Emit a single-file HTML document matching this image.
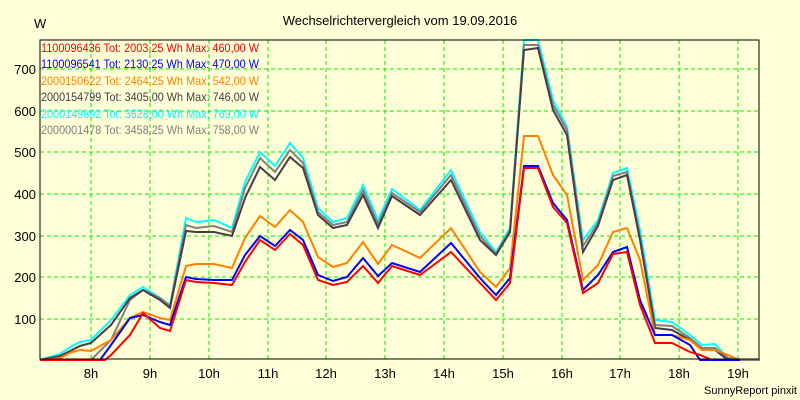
<!DOCTYPE html>
<html><head><meta charset="utf-8"><style>
html,body{margin:0;padding:0;background:#ffffd8;}
svg{display:block;font-family:"Liberation Sans",sans-serif;}
</style></head><body>
<svg width="800" height="400" viewBox="0 0 800 400" xmlns="http://www.w3.org/2000/svg">
<rect width="800" height="400" fill="#ffffd8"/>
<text x="400" y="25" font-size="13" text-anchor="middle" fill="#000">Wechselrichtervergleich vom 19.09.2016</text>
<text x="34" y="28" font-size="13" fill="#000">W</text>
<g stroke="#00ee00" stroke-width="1" stroke-dasharray="4,3" fill="none">
<line x1="40" y1="319" x2="759" y2="319"/><line x1="40" y1="277" x2="759" y2="277"/>
<line x1="40" y1="236" x2="759" y2="236"/><line x1="40" y1="194" x2="759" y2="194"/>
<line x1="40" y1="152" x2="759" y2="152"/><line x1="40" y1="111" x2="759" y2="111"/>
<line x1="40" y1="69" x2="759" y2="69"/>
<line x1="91" y1="40" x2="91" y2="359"/><line x1="150" y1="40" x2="150" y2="359"/>
<line x1="209" y1="40" x2="209" y2="359"/><line x1="268" y1="40" x2="268" y2="359"/>
<line x1="326" y1="40" x2="326" y2="359"/><line x1="385" y1="40" x2="385" y2="359"/>
<line x1="444" y1="40" x2="444" y2="359"/><line x1="503" y1="40" x2="503" y2="359"/>
<line x1="562" y1="40" x2="562" y2="359"/><line x1="620" y1="40" x2="620" y2="359"/>
<line x1="679" y1="40" x2="679" y2="359"/><line x1="738" y1="40" x2="738" y2="359"/>
</g>
<g font-size="13" fill="#000" text-anchor="end">
<text x="36" y="324">100</text><text x="36" y="282">200</text><text x="36" y="241">300</text>
<text x="36" y="199">400</text><text x="36" y="157">500</text><text x="36" y="116">600</text><text x="36" y="74">700</text>
</g>
<g font-size="13" fill="#000" text-anchor="middle">
<text x="91" y="378">8h</text><text x="150" y="378">9h</text><text x="209" y="378">10h</text>
<text x="268" y="378">11h</text><text x="326" y="378">12h</text><text x="385" y="378">13h</text>
<text x="444" y="378">14h</text><text x="503" y="378">15h</text><text x="562" y="378">16h</text>
<text x="620" y="378">17h</text><text x="679" y="378">18h</text><text x="738" y="378">19h</text>
</g>
<text x="797" y="394" font-size="11" text-anchor="end" fill="#000">SunnyReport pinxit</text>
<g fill="none" stroke-width="2" stroke-linejoin="miter">
<polyline stroke="#00ffff" points="40,360 60,354 72,346 80,342 91,340 111,320 130,295 143,287 160,298 170,305 186,218 196,222 214,220 232,228 245,182 260,152 275,166 290,143 303,158 318,208 333,222 347,218 363,185 378,220 392,189 420,210 451,170 480,232 496,252 510,228 524,40 538,40 553,100 567,127 583,240 598,220 613,173 627,168 640,230 655,320 672,322 690,335 702,345 715,344 728,358 740,360 760,360"/>
<polyline stroke="#808080" points="40,360 60,360 72,360 80,360 91,360 111,340 130,300 143,290 160,298 170,306 186,225 196,228 214,226 232,232 245,188 260,158 275,172 290,150 303,163 318,212 333,225 347,222 363,190 378,224 392,193 420,212 451,175 480,236 496,254 510,230 524,45 538,45 553,105 567,130 583,246 598,223 613,176 627,172 640,236 655,325 672,326 690,338 702,348 715,348 728,358 740,360 760,360"/>
<polyline stroke="#4a3a4a" points="40,360 60,356 72,350 80,346 91,343 111,325 130,298 143,290 160,300 170,308 186,231 196,232 214,232 232,236 245,198 260,167 275,180 290,157 303,168 318,215 333,228 347,225 363,195 378,228 392,196 420,215 451,180 480,240 496,255 510,232 524,50 538,48 553,110 567,135 583,252 598,226 613,180 627,175 640,240 655,328 672,330 690,340 702,350 715,350 728,360 740,360"/>
<polyline stroke="#ff8000" points="40,360 60,358 72,352 80,350 91,351 111,340 130,318 143,312 160,318 170,320 186,266 196,264 214,264 232,268 245,238 260,216 275,227 290,210 303,222 318,257 333,267 347,263 363,242 378,264 392,245 420,258 451,228 480,272 496,287 510,268 524,136 538,136 553,175 567,195 583,280 598,265 613,232 627,228 640,260 655,335 672,335 690,340 702,350 715,350 728,355 740,360"/>
<polyline stroke="#0000ff" points="40,360 60,360 72,360 80,360 91,360 100,360 111,345 130,318 143,315 160,322 170,325 186,277 196,279 214,280 232,280 245,255 260,236 275,246 290,230 303,240 318,275 333,281 347,277 363,258 378,276 392,263 420,272 451,243 480,278 496,295 510,278 524,166 538,166 553,203 567,220 583,290 598,275 613,252 627,247 640,300 655,335 672,335 690,345 700,360 715,360 740,360"/>
<polyline stroke="#ff0000" points="40,360 60,360 72,360 80,360 91,360 105,360 111,355 130,335 143,313 160,328 170,331 186,280 196,282 214,283 232,285 245,262 260,240 275,250 290,234 303,245 318,280 333,285 347,282 363,266 378,283 392,266 420,275 451,252 480,283 496,300 510,283 524,168 538,168 553,207 567,223 583,293 598,283 613,254 627,252 640,305 655,343 672,343 690,352 700,355 712,360"/>
</g>
<rect x="40" y="40" width="719" height="319" fill="none" stroke="#000" stroke-width="1"/>
<g font-size="12">
<text x="41" y="52" fill="#ff0000" textLength="218" lengthAdjust="spacingAndGlyphs">1100096436 Tot: 2003,25 Wh Max: 460,00 W</text>
<text x="41" y="68" fill="#0000ff" textLength="218" lengthAdjust="spacingAndGlyphs">1100096541 Tot: 2130,25 Wh Max: 470,00 W</text>
<text x="41" y="85" fill="#ff8000" textLength="218" lengthAdjust="spacingAndGlyphs">2000150622 Tot: 2464,25 Wh Max: 542,00 W</text>
<text x="41" y="101" fill="#4a3a4a" textLength="218" lengthAdjust="spacingAndGlyphs">2000154799 Tot: 3405,00 Wh Max: 746,00 W</text>
<text x="41" y="118" fill="#00ffff" textLength="218" lengthAdjust="spacingAndGlyphs">2000149892 Tot: 3628,00 Wh Max: 769,00 W</text>
<text x="41" y="134" fill="#808080" textLength="218" lengthAdjust="spacingAndGlyphs">2000001478 Tot: 3458,25 Wh Max: 758,00 W</text>
</g>
</svg>
</body></html>
